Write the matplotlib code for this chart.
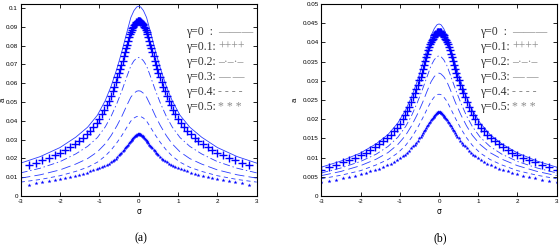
import matplotlib
matplotlib.use("Agg")
import matplotlib.pyplot as plt

plt.rcParams["lines.scale_dashes"] = False

# sigma grid for the line curves (gamma = 0, 0.2, 0.3, 0.4)
sigma_line = [-3, -2.5, -2, -1.6, -1.3, -1.05, -0.85, -0.7, -0.55, -0.42, -0.3, -0.2, -0.12, -0.05, 0,
              0.05, 0.12, 0.2, 0.3, 0.42, 0.55, 0.7, 0.85, 1.05, 1.3, 1.6, 2, 2.5, 3]

# sigma grid for the marker curves (gamma = 0.1, 0.5)
sigma_mark_a = [-2.8, -2.62, -2.45, -2.29, -2.14, -2.0, -1.87, -1.75, -1.63, -1.52, -1.42, -1.32,
                -1.23, -1.15, -1.07, -1.0, -0.93, -0.87, -0.81, -0.76, -0.71, -0.66, -0.62, -0.58,
                -0.54, -0.5, -0.47, -0.44, -0.41, -0.38, -0.35, -0.32, -0.295, -0.27, -0.245, -0.22,
                -0.2, -0.18, -0.16, -0.14, -0.12, -0.1, -0.08, -0.06, -0.045, -0.03, -0.015, 0,
                0.015, 0.03, 0.045, 0.06, 0.08, 0.1, 0.12, 0.14, 0.16, 0.18, 0.2, 0.22, 0.245, 0.27,
                0.295, 0.32, 0.35, 0.38, 0.41, 0.44, 0.47, 0.5, 0.54, 0.58, 0.62, 0.66, 0.71, 0.76,
                0.81, 0.87, 0.93, 1.0, 1.07, 1.15, 1.23, 1.32, 1.42, 1.52, 1.63, 1.75, 1.87, 2.0,
                2.14, 2.29, 2.45, 2.62, 2.8]
sigma_mark_b = [-3.0] + sigma_mark_a + [3.0]

# panel (a)
a_g0 = [0.0175, 0.0210, 0.0258, 0.0313, 0.0366, 0.0430, 0.0508, 0.0585, 0.0680, 0.0775, 0.0872,
        0.0950, 0.0987, 0.1006, 0.1010, 0.1006, 0.0987, 0.0950, 0.0872, 0.0775, 0.0680, 0.0585,
        0.0508, 0.0430, 0.0366, 0.0313, 0.0258, 0.0210, 0.0175]
a_g2 = [0.0123, 0.0148, 0.0183, 0.0224, 0.0264, 0.0311, 0.0368, 0.0425, 0.0495, 0.0565, 0.0636,
        0.0693, 0.0720, 0.0734, 0.0737, 0.0734, 0.0720, 0.0693, 0.0636, 0.0565, 0.0495, 0.0425,
        0.0368, 0.0311, 0.0264, 0.0224, 0.0183, 0.0148, 0.0123]
a_g3 = [0.0095, 0.0113, 0.0139, 0.0170, 0.0199, 0.0235, 0.0278, 0.0322, 0.0375, 0.0428, 0.0483,
        0.0526, 0.0547, 0.0558, 0.0560, 0.0558, 0.0547, 0.0526, 0.0483, 0.0428, 0.0375, 0.0322,
        0.0278, 0.0235, 0.0199, 0.0170, 0.0139, 0.0113, 0.0095]
a_g4 = [0.0074, 0.0088, 0.0108, 0.0131, 0.0153, 0.0180, 0.0213, 0.0245, 0.0285, 0.0325, 0.0366,
        0.0399, 0.0415, 0.0423, 0.0425, 0.0423, 0.0415, 0.0399, 0.0366, 0.0325, 0.0285, 0.0245,
        0.0213, 0.0180, 0.0153, 0.0131, 0.0108, 0.0088, 0.0074]
a_g1 = [0.0165, 0.0177, 0.0191, 0.0204, 0.0217, 0.0231, 0.0246, 0.0261, 0.0277, 0.0293, 0.0310,
        0.0328, 0.0347, 0.0365, 0.0386, 0.0408, 0.0434, 0.0458, 0.0483, 0.0507, 0.0532, 0.0558,
        0.0581, 0.0605, 0.0631, 0.0657, 0.0678, 0.0699, 0.0720, 0.0743, 0.0766, 0.0788, 0.0806,
        0.0826, 0.0844, 0.0862, 0.0875, 0.0884, 0.0893, 0.0901, 0.0909, 0.0916, 0.0921, 0.0925,
        0.0928, 0.0930, 0.0931, 0.0932,
        0.0931, 0.0930, 0.0928, 0.0925, 0.0921, 0.0916, 0.0909, 0.0901, 0.0893, 0.0884, 0.0875,
        0.0862, 0.0844, 0.0826, 0.0806, 0.0788, 0.0766, 0.0743, 0.0720, 0.0699, 0.0678, 0.0657,
        0.0631, 0.0605, 0.0581, 0.0558, 0.0532, 0.0507, 0.0483, 0.0458, 0.0434, 0.0408, 0.0386,
        0.0365, 0.0347, 0.0328, 0.0310, 0.0293, 0.0277, 0.0261, 0.0246, 0.0231, 0.0217, 0.0204,
        0.0191, 0.0177, 0.0165]
a_g5 = [0.0060, 0.0068, 0.0075, 0.0081, 0.0087, 0.0093, 0.0098, 0.0103, 0.0108, 0.0113, 0.0119,
        0.0125, 0.0131, 0.0136, 0.0142, 0.0148, 0.0154, 0.0160, 0.0166, 0.0172, 0.0179, 0.0186,
        0.0192, 0.0199, 0.0207, 0.0216, 0.0223, 0.0230, 0.0238, 0.0246, 0.0254, 0.0262, 0.0268,
        0.0274, 0.0281, 0.0287, 0.0292, 0.0297, 0.0303, 0.0309, 0.0314, 0.0318, 0.0322, 0.0325,
        0.0327, 0.0329, 0.0330, 0.0330,
        0.0330, 0.0329, 0.0327, 0.0325, 0.0322, 0.0318, 0.0314, 0.0309, 0.0303, 0.0297, 0.0292,
        0.0287, 0.0281, 0.0274, 0.0268, 0.0262, 0.0254, 0.0246, 0.0238, 0.0230, 0.0223, 0.0216,
        0.0207, 0.0199, 0.0192, 0.0186, 0.0179, 0.0172, 0.0166, 0.0160, 0.0154, 0.0148, 0.0142,
        0.0136, 0.0131, 0.0125, 0.0119, 0.0113, 0.0108, 0.0103, 0.0098, 0.0093, 0.0087, 0.0081,
        0.0075, 0.0068, 0.0060]

# panel (b)
b_g0 = [0.0075, 0.0091, 0.0112, 0.0136, 0.0160, 0.0190, 0.0224, 0.0258, 0.0300, 0.0342, 0.0384,
        0.0418, 0.0436, 0.0446, 0.0448, 0.0446, 0.0436, 0.0418, 0.0384, 0.0342, 0.0300, 0.0258,
        0.0224, 0.0190, 0.0160, 0.0136, 0.0112, 0.0091, 0.0075]
b_g2 = [0.0060, 0.0073, 0.0090, 0.0109, 0.0129, 0.0153, 0.0181, 0.0209, 0.0244, 0.0278, 0.0312,
        0.0340, 0.0355, 0.0363, 0.0365, 0.0363, 0.0355, 0.0340, 0.0312, 0.0278, 0.0244, 0.0209,
        0.0181, 0.0153, 0.0129, 0.0109, 0.0090, 0.0073, 0.0060]
b_g3 = [0.0053, 0.0064, 0.0079, 0.0096, 0.0113, 0.0134, 0.0158, 0.0183, 0.0213, 0.0243, 0.0274,
        0.0298, 0.0311, 0.0318, 0.0320, 0.0318, 0.0311, 0.0298, 0.0274, 0.0243, 0.0213, 0.0183,
        0.0158, 0.0134, 0.0113, 0.0096, 0.0079, 0.0064, 0.0053]
b_g4 = [0.0045, 0.0054, 0.0066, 0.0081, 0.0095, 0.0112, 0.0132, 0.0152, 0.0177, 0.0202, 0.0227,
        0.0247, 0.0258, 0.0264, 0.0265, 0.0264, 0.0258, 0.0247, 0.0227, 0.0202, 0.0177, 0.0152,
        0.0132, 0.0112, 0.0095, 0.0081, 0.0066, 0.0054, 0.0045]
b_g1 = [0.0069, 0.0076, 0.0082, 0.0088, 0.0093, 0.0099, 0.0106, 0.0113, 0.0120, 0.0128, 0.0135,
        0.0143, 0.0152, 0.0160, 0.0168, 0.0178, 0.0188, 0.0200, 0.0211, 0.0222, 0.0233, 0.0245,
        0.0257, 0.0267, 0.0279, 0.0290, 0.0302, 0.0311, 0.0321, 0.0331, 0.0342, 0.0352, 0.0362,
        0.0371, 0.0380, 0.0388, 0.0396, 0.0402, 0.0406, 0.0410, 0.0414, 0.0418, 0.0421, 0.0423,
        0.0425, 0.0426, 0.0427, 0.0428, 0.0428,
        0.0428, 0.0427, 0.0426, 0.0425, 0.0423, 0.0421, 0.0418, 0.0414, 0.0410, 0.0406, 0.0402,
        0.0396, 0.0388, 0.0380, 0.0371, 0.0362, 0.0352, 0.0342, 0.0331, 0.0321, 0.0311, 0.0302,
        0.0290, 0.0279, 0.0267, 0.0257, 0.0245, 0.0233, 0.0222, 0.0211, 0.0200, 0.0188, 0.0178,
        0.0168, 0.0160, 0.0152, 0.0143, 0.0135, 0.0128, 0.0120, 0.0113, 0.0106, 0.0099, 0.0093,
        0.0088, 0.0082, 0.0076, 0.0069]
b_g5 = [0.0036, 0.0039, 0.0042, 0.0046, 0.0049, 0.0053, 0.0057, 0.0061, 0.0064, 0.0068, 0.0071,
        0.0075, 0.0080, 0.0084, 0.0088, 0.0093, 0.0098, 0.0103, 0.0108, 0.0113, 0.0118, 0.0124,
        0.0129, 0.0134, 0.0139, 0.0144, 0.0150, 0.0154, 0.0158, 0.0163, 0.0168, 0.0173, 0.0178,
        0.0182, 0.0186, 0.0190, 0.0194, 0.0197, 0.0200, 0.0203, 0.0206, 0.0209, 0.0212, 0.0214,
        0.0216, 0.0217, 0.0218, 0.0219, 0.0219,
        0.0219, 0.0218, 0.0217, 0.0216, 0.0214, 0.0212, 0.0209, 0.0206, 0.0203, 0.0200, 0.0197,
        0.0194, 0.0190, 0.0186, 0.0182, 0.0178, 0.0173, 0.0168, 0.0163, 0.0158, 0.0154, 0.0150,
        0.0144, 0.0139, 0.0134, 0.0129, 0.0124, 0.0118, 0.0113, 0.0108, 0.0103, 0.0098, 0.0093,
        0.0088, 0.0084, 0.0080, 0.0075, 0.0071, 0.0068, 0.0064, 0.0061, 0.0057, 0.0053, 0.0049,
        0.0046, 0.0042, 0.0039, 0.0036]

x_ticks = [-3, -2, -1, 0, 1, 2, 3]
a_yticks = [0, 0.01, 0.02, 0.03, 0.04, 0.05, 0.06, 0.07, 0.08, 0.09, 0.1]
a_ylabels = ["0", "0.01", "0.02", "0.03", "0.04", "0.05", "0.06", "0.07", "0.08", "0.09", "0.1"]
b_yticks = [0, 0.005, 0.01, 0.015, 0.02, 0.025, 0.03, 0.035, 0.04, 0.045, 0.05]
b_ylabels = ["0", "0.005", "0.01", "0.015", "0.02", "0.025", "0.03", "0.035", "0.04", "0.045", "0.05"]

legend_labels = ["\u03b3=0  :", "\u03b3=0.1:", "\u03b3=0.2:", "\u03b3=0.3:", "\u03b3=0.4:", "\u03b3=0.5:"]
legend_samples = ["\u2014\u2014\u2014", "++++", "\u2013\u00b7\u2013\u00b7\u2013", "\u2014 \u2014", "- - - -", "* * *"]

LINE_C = "#2a3cff"
MARK_C = "#0000ff"
SANS = "Liberation Sans"
SERIF = "Liberation Serif"


def dibujar_panel(ax, lines, plus, dots, sig_mark, ylim, yticks, ylabels, ylab_x, text_x, sample_x):
    g0, g2, g3, g4 = lines
    ax.plot(sigma_line, g0, color=LINE_C, lw=0.6)
    ax.plot(sig_mark, plus, ls="none", marker="+", ms=5.5, mew=1.0, color=MARK_C)
    ax.plot(sigma_line, g2, color=LINE_C, lw=0.6, dashes=(5, 2, 1, 2))
    ax.plot(sigma_line, g3, color=LINE_C, lw=0.6, dashes=(7, 3))
    ax.plot(sigma_line, g4, color=LINE_C, lw=0.6, dashes=(3, 2.5))
    ax.plot(sig_mark, dots, ls="none", marker="*", ms=3, mew=0, color=MARK_C)

    ax.set_xlim(-3, 3)
    ax.set_ylim(*ylim)
    ax.set_xticks(x_ticks)
    ax.set_xticklabels([str(t) for t in x_ticks], family=SANS, fontsize=4.5)
    ax.set_yticks(yticks)
    ax.set_yticklabels(ylabels, family=SANS, fontsize=4.5)
    ax.tick_params(direction="in", length=3, width=0.6, top=True, right=True, pad=2)
    for s in ax.spines.values():
        s.set_linewidth(0.8)

    ax.set_xlabel("\u03c3", family="DejaVu Sans", fontsize=5.5)
    ax.xaxis.set_label_coords(0.5, -0.055)
    ax.set_ylabel("a", family=SANS, fontsize=5.5)
    ax.yaxis.set_label_coords(ylab_x, 0.5)

    rows = [0.854, 0.776, 0.698, 0.620, 0.542, 0.464]
    for lab, sam, y in zip(legend_labels, legend_samples, rows):
        ax.text(text_x, y, lab, transform=ax.transAxes, family=SERIF, fontsize=8.5,
                color="#333333", va="center", ha="left")
        ax.text(sample_x, y, sam, transform=ax.transAxes, family=SERIF, fontsize=8.5,
                color="#8a8a8a", va="center", ha="left")


def main():
    fig = plt.figure(figsize=(5.59, 2.45), dpi=100)
    ax_a = fig.add_axes([20.7 / 559, 0.2, 236 / 559, 0.7837])
    ax_b = fig.add_axes([321.3 / 559, 0.2, 235.4 / 559, 0.7837])

    dibujar_panel(ax_a, (a_g0, a_g2, a_g3, a_g4), a_g1, a_g5, sigma_mark_a, (0, 0.1022),
                  a_yticks, a_ylabels, -0.06, 0.700, 0.836)
    dibujar_panel(ax_b, (b_g0, b_g2, b_g3, b_g4), b_g1, b_g5, sigma_mark_b, (0, 0.05),
                  b_yticks, b_ylabels, -0.095, 0.674, 0.81)

    fig.text(141 / 559, 1 - 238 / 245, "(a)", family=SERIF, fontsize=8.5, ha="center", va="center")
    fig.text(440 / 559, 1 - 238 / 245, "(b)", family=SERIF, fontsize=8.5, ha="center", va="center")

    fig.savefig("out.png", dpi=100)


if __name__ == "__main__":
    main()
